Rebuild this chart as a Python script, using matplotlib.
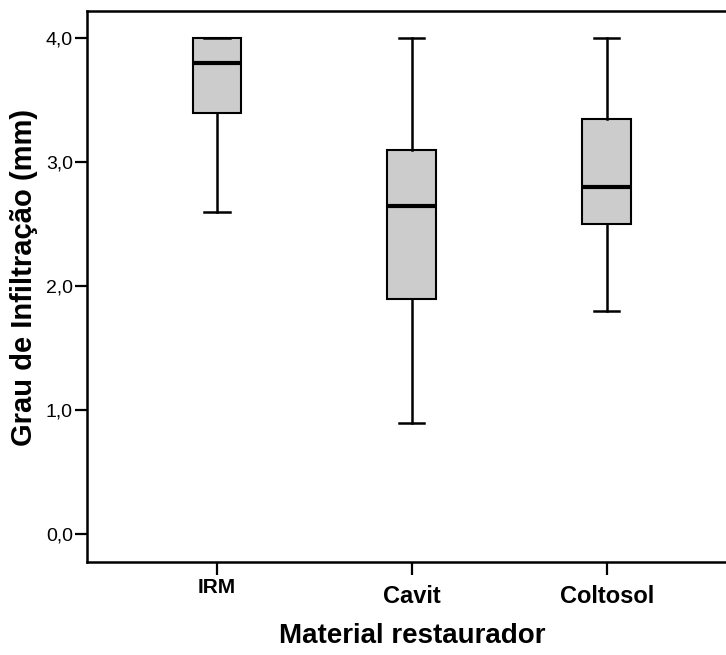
import matplotlib.pyplot as plt

plt.rcParams["font.family"] = ["Liberation Sans", "DejaVu Sans"]

# box plot summaries
materials = ["IRM", "Cavit", "Coltosol"]
whisker_low = [2.6, 0.9, 1.8]
q1 = [3.4, 1.9, 2.5]
median = [3.8, 2.65, 2.8]
q3 = [4.0, 3.1, 3.35]
whisker_high = [4.0, 4.0, 4.0]
y_ticks = [0.0, 1.0, 2.0, 3.0, 4.0]


def main():
    stats = []
    for i, name in enumerate(materials):
        stats.append({
            "label": name,
            "whislo": whisker_low[i],
            "q1": q1[i],
            "med": median[i],
            "q3": q3[i],
            "whishi": whisker_high[i],
            "fliers": [],
        })

    fig = plt.figure(figsize=(7.26, 6.55), dpi=100)
    ax = fig.add_axes([0.1194, 0.1424, 0.8957, 0.8413])

    ax.bxp(
        stats,
        positions=[1, 2, 3],
        widths=0.25,
        patch_artist=True,
        showfliers=False,
        boxprops=dict(facecolor="#cccccc", edgecolor="black", linewidth=1.5),
        medianprops=dict(color="black", linewidth=3),
        whiskerprops=dict(color="black", linewidth=1.8),
        capprops=dict(color="black", linewidth=1.8),
        capwidths=0.13,
    )

    ax.set_xlim(0.332, 3.668)
    ax.set_ylim(-0.221, 4.223)
    ax.set_yticks(y_ticks)
    ax.set_yticklabels([f"{v:.1f}".replace(".", ",") for v in y_ticks], fontsize=14)
    ax.set_xticks([1, 2, 3])
    ax.set_xticklabels(materials, fontsize=17, fontweight="bold")
    ax.tick_params(axis="both", length=9, width=1.6, color="black")
    ax.tick_params(axis="y", pad=1)
    ax.tick_params(axis="x", pad=7.5)

    # the IRM label sits a bit higher and smaller in the original
    first = ax.xaxis.get_major_ticks()[0]
    first.set_pad(3)
    first.label1.set_fontsize(15)

    for side in ["left", "bottom", "top", "right"]:
        ax.spines[side].set_linewidth(1.8)

    ax.set_ylabel("Grau de Infiltração (mm)", fontsize=21, fontweight="bold")
    ax.yaxis.set_label_coords(-0.075, 0.516)
    ax.set_xlabel("Material restaurador", fontsize=20, fontweight="bold", labelpad=11)

    fig.savefig("out.png", dpi=100)


if __name__ == "__main__":
    main()
